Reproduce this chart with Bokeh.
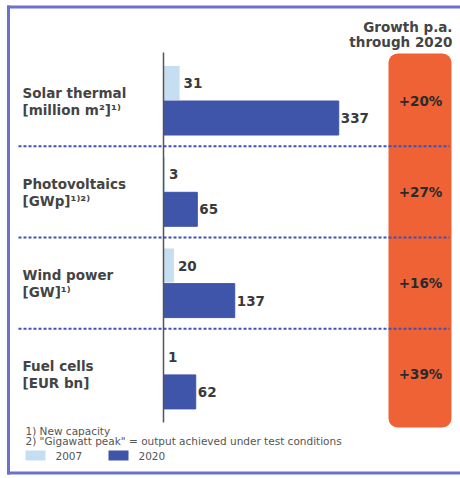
from bokeh.plotting import figure
from bokeh.models import Range1d, BoxAnnotation
from bokeh.core.properties import value
from bokeh.embed import file_html
from bokeh.resources import INLINE

# ---------------- data ----------------
categories = ["Solar thermal", "Photovoltaics", "Wind power", "Fuel cells"]
units = ["[million m²]¹⁾", "[GWp]¹⁾²⁾", "[GW]¹⁾", "[EUR bn]"]
values_2007 = [31, 3, 20, 1]
values_2020 = [337, 65, 137, 62]
growth = ["+20%", "+27%", "+16%", "+39%"]
series_names = ["2007", "2020"]
header_lines = ["Growth p.a.", "through 2020"]
footnotes = ["1) New capacity",
             "2) \"Gigawatt peak\" = output achieved under test conditions"]

# ---------------- styles ----------------
C_LIGHT = "#c6def1"
C_DARK = "#3e55a9"
C_ORANGE = "#ee6236"
C_FRAME = "#6b73c9"
C_DOT = "#3f50b8"
C_TEXT = "#3a3a3a"
FONT = value("DejaVu Sans")

# pixel <-> data helpers
X0, SX = 163.0, 0.52      # value 0 at x=163px, 0.52 px per unit
Y0, SY = 100.0, 91.3      # first category centre at y=100px, 91.3 px per band
W, H = 460, 478


def PX(px):
    return (px - X0) / SX


def PY(py):
    return (py - Y0) / SY


p = figure(width=W, height=H,
           x_range=Range1d(PX(0), PX(W)),
           y_range=Range1d(PY(H), PY(0)),
           x_axis_location=None, y_axis_location=None,
           output_backend="svg", toolbar_location=None, min_border=0)
p.grid.visible = False
p.outline_line_color = None
p.background_fill_color = "white"
p.border_fill_color = "white"

# frame
p.segment(x0=[PX(8), PX(6.5), PX(6.5)], x1=[PX(8), PX(W), PX(W)],
          y0=[PY(5), PY(6.5), PY(472.5)], y1=[PY(474), PY(6.5), PY(472.5)],
          line_color=C_FRAME, line_width=3)

# orange growth column
p.add_layout(BoxAnnotation(left=PX(388), right=PX(451), top=PY(53), bottom=PY(427),
                           fill_color=C_ORANGE, fill_alpha=1, line_color=None,
                           border_radius=9, level="underlay"))

idx = list(range(len(categories)))
off = 17.5 / SY
bh = 34 / SY

# separators between categories
for i in idx[:-1]:
    p.line(x=[PX(18), PX(449)], y=[i + 0.5, i + 0.5], line_color=C_DOT,
           line_width=2, line_dash="3 2")

# bars
p.hbar(y=[i - off for i in idx], left=0, right=values_2007, height=bh,
       fill_color=C_LIGHT, line_color=None)
p.hbar(y=[i + off for i in idx], left=0, right=values_2020, height=bh,
       fill_color=C_DARK, line_color=C_DARK, line_width=1)

# vertical axis line
p.segment(x0=[0], x1=[0], y0=[PY(52)], y1=[PY(422)], line_color="#555555", line_width=1.5)

# value labels
p.text(x=values_2007, y=[i - off for i in idx], text=[str(v) for v in values_2007],
       x_offset=4, text_baseline="middle", text_align="left", text_font=FONT,
       text_font_style="bold", text_font_size="13.5px", text_color=C_TEXT)
p.text(x=values_2020, y=[i + off for i in idx], text=[str(v) for v in values_2020],
       x_offset=2, text_baseline="middle", text_align="left", text_font=FONT,
       text_font_style="bold", text_font_size="13.5px", text_color=C_TEXT)

# category labels
p.text(x=[PX(22)] * 4, y=[i - 8 / SY for i in idx], text=categories,
       text_baseline="middle", text_align="left", text_font=FONT,
       text_font_style="bold", text_font_size="13.5px", text_color="#444444")
p.text(x=[PX(22)] * 4, y=[i + 9 / SY for i in idx], text=units,
       text_baseline="middle", text_align="left", text_font=FONT,
       text_font_style="bold", text_font_size="13.5px", text_color="#444444")

# growth labels
p.text(x=[PX(420)] * 4, y=idx, text=growth, text_baseline="middle", text_align="center",
       text_font=FONT, text_font_style="bold", text_font_size="13.5px", text_color="#2a2a2a")

# header
p.text(x=[PX(452)] * 2, y=[PY(26), PY(41)], text=header_lines, text_baseline="middle",
       text_align="right", text_font=FONT, text_font_style="bold",
       text_font_size="13.5px", text_color="#444444")

# footnotes
p.text(x=[PX(25)] * 2, y=[PY(430), PY(440)], text=footnotes, text_baseline="middle",
       text_align="left", text_font=FONT, text_font_size="10.5px", text_color="#555555")

# legend
p.quad(left=[PX(25), PX(108)], right=[PX(45), PX(128)], top=[PY(450), PY(450)],
       bottom=[PY(460), PY(460)], fill_color=[C_LIGHT, C_DARK], line_color=None)
p.text(x=[PX(55), PX(138)], y=[PY(455), PY(455)], text=series_names, text_baseline="middle",
       text_align="left", text_font=FONT, text_font_size="10.5px", text_color="#555555")

open("out.html", "w").write(file_html(p, INLINE))
